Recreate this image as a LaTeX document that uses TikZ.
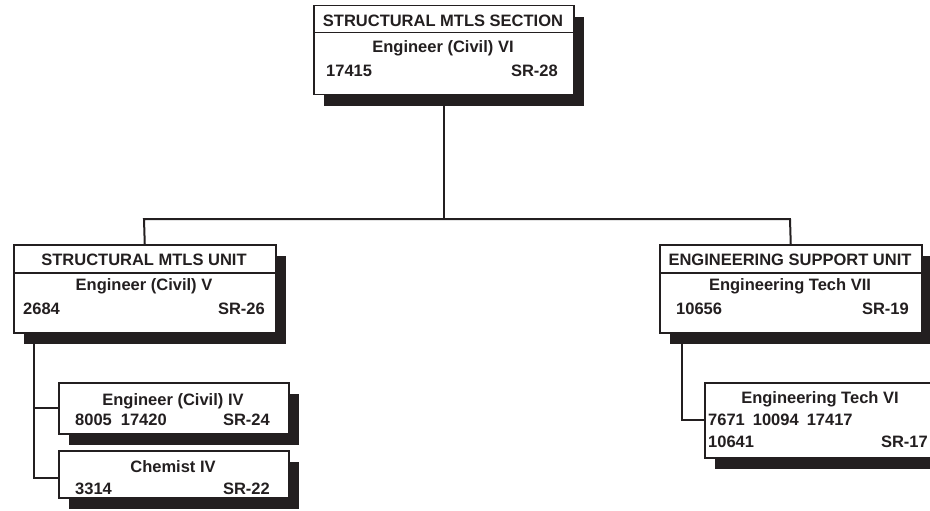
\documentclass[tikz,border=0pt]{standalone}
\usepackage{fontspec}
\setmainfont{Liberation Sans}
\usetikzlibrary{shadows}
\definecolor{ink}{HTML}{231F20}
\pgfdeclarelayer{background}
\pgfsetlayers{background,main}
\tikzset{
  boxshape/.style={draw=ink, fill=white, line width=1.5pt, inner sep=0pt, anchor=north west,
     general shadow={fill=ink, shadow xshift=10pt, shadow yshift=-11pt}},
  lbl/.style={inner sep=0pt, text=ink, font=\fontsize{16.5}{19}\selectfont\bfseries},
  wire/.style={draw=ink, line width=2pt},
}
\begin{document}
\begin{tikzpicture}[x=1pt,y=-1pt]
\useasboundingbox (0,0) rectangle (930,511);
\clip (0,0) rectangle (930,511);

% ---- top box: section
\node[boxshape, minimum width=260, minimum height=27] (sech) at (313,5) {};
\node[boxshape, minimum width=260, minimum height=62] (secb) at (313,32) {};
\node[lbl, anchor=base] (sect) at (443,27) {STRUCTURAL MTLS SECTION};
\node[lbl, anchor=base] (secti) at (443,53) {Engineer (Civil) VI};
\node[lbl, anchor=base west] (secnum) at (326,77) {17415};
\node[lbl, anchor=base east] (secsr) at (558,77) {SR-28};

% ---- left unit
\node[boxshape, minimum width=262, minimum height=28] (smuh) at (13,244) {};
\node[boxshape, minimum width=262, minimum height=60] (smub) at (13,272) {};
\node[lbl, anchor=base] (smut) at (144,265) {STRUCTURAL MTLS UNIT};
\node[lbl, anchor=base] (smuti) at (144,290) {Engineer (Civil) V};
\node[lbl, anchor=base west] (smunum) at (23,314) {2684};
\node[lbl, anchor=base east] (smusr) at (265,314) {SR-26};

% ---- right unit
\node[boxshape, minimum width=262, minimum height=28] (esuh) at (659,244) {};
\node[boxshape, minimum width=262, minimum height=60] (esub) at (659,272) {};
\node[lbl, anchor=base] (esut) at (790,265) {ENGINEERING SUPPORT UNIT};
\node[lbl, anchor=base] (esuti) at (790,290) {Engineering Tech VII};
\node[lbl, anchor=base west] (esunum) at (676,314) {10656};
\node[lbl, anchor=base east] (esusr) at (909,314) {SR-19};

% ---- lower left boxes
\node[boxshape, minimum width=230, minimum height=51] (eng4) at (58,382) {};
\node[lbl, anchor=base] (eng4ti) at (173,405) {Engineer (Civil) IV};
\node[lbl, anchor=base west] (eng4num) at (75,425) {8005\hspace{9pt}17420};
\node[lbl, anchor=base east] (eng4sr) at (270,425) {SR-24};

\node[boxshape, minimum width=230, minimum height=47] (chem) at (58,450) {};
\node[lbl, anchor=base] (chemti) at (173,472) {Chemist IV};
\node[lbl, anchor=base west] (chemnum) at (75,494) {3314};
\node[lbl, anchor=base east] (chemsr) at (270,494) {SR-22};

% ---- lower right box
\node[boxshape, minimum width=233, minimum height=75] (et6) at (704,382) {};
\node[lbl, anchor=base] (et6ti) at (820,403) {Engineering Tech VI};
\node[lbl, anchor=base west] (et6numa) at (708,425) {7671\hspace{8pt}10094\hspace{8pt}17417};
\node[lbl, anchor=base west] (et6numb) at (708,447) {10641};
\node[lbl, anchor=base east] (et6sr) at (928,447) {SR-17};

% ---- connectors
\coordinate (busL) at (144,219);
\coordinate (busR) at (790,219);
\coordinate (lspine) at (34,332);
\coordinate (rspine) at (682,332);
\begin{pgfonlayer}{background}
\draw[wire] (secb.south) -- (secb.south |- busL);
\draw[wire] (smuh.north) -- (busL) -- (busR) -- (esuh.north);
\draw[wire] (lspine) |- (eng4.west);
\draw[wire] (lspine) |- ([yshift=-3.5pt]chem.west);
\draw[wire] (rspine) |- (et6.west);
\end{pgfonlayer}
\end{tikzpicture}
\end{document}
